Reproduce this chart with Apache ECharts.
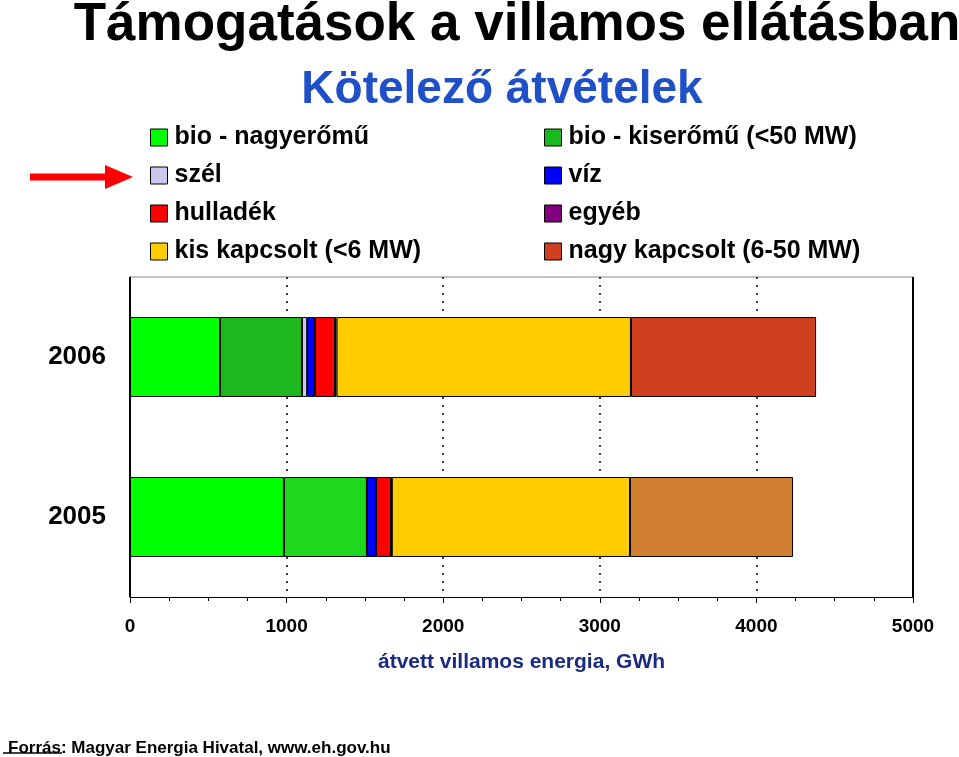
<!DOCTYPE html><html><head><meta charset="utf-8"><script src="https://cdn.jsdelivr.net/npm/echarts@6/dist/echarts.min.js"></script>
<style>body{margin:0}#c{width:959px;height:757px}</style></head><body><div id="c"></div><script>
const years=['2005','2006'];
const names=['bio - nagyerőmű','bio - kiserőmű (<50 MW)','szél','víz','hulladék','egyéb','kis kapcsolt (<6 MW)','nagy kapcsolt (6-50 MW)'];
const bioNagy=[983,575], bioKis=[530,523], szel=[0,33], viz=[58,50], hulladek=[96,128], egyeb=[5,10], kisKap=[1521,1880], nagyKap=[1041,1182];
const vals=[bioNagy,bioKis,szel,viz,hulladek,egyeb,kisKap,nagyKap];
const colors=['#00FF00','#1DB81D','#C8C8F0','#0000FF','#FF0000','#800080','#FFCC00','#D04020'];
const c2005={1:'#1ED81E',7:'#D08030'};
const xTicks=[0,1000,2000,3000,4000,5000];
const ch=echarts.init(document.getElementById('c'));
const series=names.map((n,i)=>({name:n,type:'bar',stack:'s',barWidth:'50%',
 itemStyle:{color:colors[i],borderColor:'#000',borderWidth:1},
 data:vals[i].map((v,j)=>j===0&&c2005[i]?{value:v,itemStyle:{color:c2005[i]}}:v)}));
const leg=(arr,left)=>({data:arr,orient:'vertical',left:left,top:120,itemGap:13,itemWidth:17,itemHeight:17,icon:'rect',selectedMode:false,
 itemStyle:{borderColor:'#000',borderWidth:1},textStyle:{fontSize:25,fontFamily:'Liberation Sans',fontWeight:'bold',color:'#000',padding:[0,0,0,2]}});
ch.setOption({animation:false,
 title:[{text:'Támogatások a villamos ellátásban',left:512,textAlign:'center',top:-6,textStyle:{fontSize:53,fontWeight:'bold',fontFamily:'Liberation Sans',color:'#000'}},
  {text:'Kötelező átvételek',left:497,textAlign:'center',top:62,textStyle:{fontSize:46,fontWeight:'bold',fontFamily:'Liberation Sans',color:'#2050C8'}},
  {text:'Forrás: Magyar Energia Hivatal, www.eh.gov.hu',left:3,top:735,textStyle:{fontSize:17,fontWeight:'bold',fontFamily:'Liberation Sans',color:'#000'}}],
 legend:[leg([names[0],names[2],names[4],names[6]],145),leg([names[1],names[3],names[5],names[7]],539)],
 grid:{left:130,right:46,top:277,bottom:160},
 xAxis:{type:'value',min:0,max:5000,interval:1000,position:'bottom',
  axisLine:{show:true,lineStyle:{color:'#000'}},axisTick:{show:true,inside:false,length:6,lineStyle:{color:'#000'}},
  minorTick:{show:true,splitNumber:4,length:4,lineStyle:{color:'#000'}},
  splitLine:{show:true,lineStyle:{color:'#000',type:[2,6],width:1.5}},
  axisLabel:{fontSize:19,fontWeight:'bold',fontFamily:'Liberation Sans',color:'#000',margin:20,formatter:v=>xTicks.includes(v)?String(v):''},
  name:'átvett villamos energia, GWh',nameLocation:'middle',nameGap:55,
  nameTextStyle:{fontSize:21,fontWeight:'bold',fontFamily:'Liberation Sans',color:'#1a2a80'}},
 yAxis:{type:'category',data:years,axisLine:{lineStyle:{color:'#000'}},axisTick:{length:10,lineStyle:{color:'#000'}},
  splitLine:{show:false},axisLabel:{fontSize:26,fontWeight:'bold',fontFamily:'Liberation Sans',color:'#000',margin:24}},
 graphic:[{type:'line',shape:{x1:130,y1:277,x2:913,y2:277},style:{stroke:'#888',lineWidth:1}},
  {type:'line',shape:{x1:913,y1:277,x2:913,y2:597},style:{stroke:'#000',lineWidth:2}},
  {type:'line',shape:{x1:130,y1:277,x2:130,y2:597},style:{stroke:'#000',lineWidth:2}},
  {type:'line',shape:{x1:3,y1:753,x2:62,y2:753},style:{stroke:'#000',lineWidth:1.5}},
  {type:'line',shape:{x1:30,y1:177,x2:110,y2:177},style:{stroke:'#FF0000',lineWidth:7}},
  {type:'polygon',shape:{points:[[105,165],[133,177],[105,189]]},style:{fill:'#FF0000'}}],
 series});
</script></body></html>
